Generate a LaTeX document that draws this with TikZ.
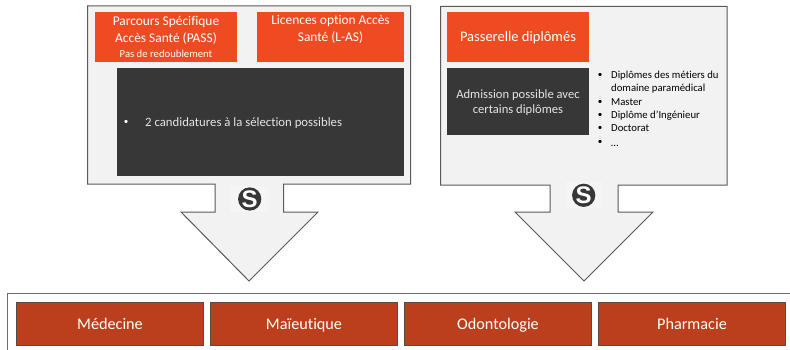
\documentclass[tikz,border=0pt]{standalone}
\usepackage{fontspec}
\setmainfont{Carlito}[RawFeature={-liga;-clig;-dlig}]
\definecolor{panelfill}{HTML}{F2F2F2}
\definecolor{panelline}{HTML}{595959}
\definecolor{orangebox}{HTML}{EE4B23}
\definecolor{darkbox}{HTML}{373737}
\definecolor{redbox}{HTML}{BC3F1D}
\definecolor{redline}{HTML}{5A4A45}
\newcommand{\fs}[1]{\fontsize{#1}{#1}\selectfont}
\tikzset{
  x=1pt,y=-1pt,
  panel/.style={draw=panelline,fill=panelfill,line width=1pt,line join=miter},
  orangecard/.style={fill=orangebox,draw=none,text=white,align=center,inner sep=0pt},
  darkcard/.style={fill=darkbox,draw=none,inner sep=0pt},
  redcard/.style={fill=redbox,draw=redline,line width=1pt,text=white,inner sep=0pt,font=\fs{16.2},minimum width=187pt,minimum height=43pt,text height=15pt,text depth=4pt},
  tag/.style={inner sep=0pt,anchor=base,text=white},
  darktag/.style={inner sep=0pt,anchor=base,text=white!90!black,font=\fs{12.6}},
  listline/.style={inner sep=0pt,anchor=base west,font=\fs{10.7}},
  listdot/.style={inner sep=0pt,font=\fs{9}},
  logo/.style={circle,fill=darkbox,text=white,inner sep=0pt,minimum size=23pt,font=\fontspec{Liberation Sans}\bfseries\fs{24}},
  logobg/.style={fill=white!96!black,draw=none}
}
\begin{document}
\begin{tikzpicture}
\useasboundingbox (0,0) rectangle (790,350);
\fill[white] (0,0) rectangle (790,350);
% left panel with arrow
\draw[panel] (87.5,6) -- (410.7,6) -- (410.7,184) -- (283.5,184) -- (283.5,212) -- (318,212) -- (249,281) -- (181,212) -- (215,212) -- (215,184) -- (87.5,184) -- cycle;
% right panel with arrow
\draw[panel] (440.5,6.5) -- (727,6.5) -- (727,185) -- (618,185) -- (618,212) -- (653,212) -- (584,281) -- (515,212) -- (550,212) -- (550,185) -- (440.5,185) -- cycle;
% left cards
\node[orangecard,minimum width=141.5pt,minimum height=49.5pt] (pass) at (165.8,36.8) {};
\node[tag,font=\fs{13.4}] (pass1) at (166,25.5) {Parcours Spécifique};
\node[tag,font=\fs{13.4}] (pass2) at (166,43) {Accès Santé (PASS)};
\node[tag,font=\fs{10.7}] (pass3) at (166,57.7) {Pas de redoublement};
\node[orangecard,minimum width=147pt,minimum height=49.5pt] (las) at (330.5,36.8) {};
\node[tag,font=\fs{13.4}] (las1) at (330.5,25) {Licences option Accès};
\node[tag,font=\fs{13.4}] (las2) at (330.5,42) {Santé (L-AS)};
\node[darkcard,minimum width=287pt,minimum height=108pt] (cand) at (260.5,122) {};
\node[text=white,inner sep=0pt,font=\fs{9}] (bul) at (126,122.5) {•};
\node[inner sep=0pt,anchor=base west,text=white!90!black,font=\fs{12.75}] (candt) at (145,127) {2 candidatures à la sélection possibles};
% right cards
\node[orangecard,minimum width=142pt,minimum height=49.5pt,font=\fs{14.5},text height=14pt,text depth=4.2pt] (pont) at (518,36.8) {Passerelle diplômés};
\node[darkcard,minimum width=142pt,minimum height=67pt] (adm) at (518,101.5) {};
\node[darktag] (adm1) at (518,98.7) {Admission possible avec};
\node[darktag] (adm2) at (518,114) {certains diplômes};
% right list
\node[listline] (lia) at (611,78.7) {Diplômes des métiers du};
\node[listline] (lib) at (611,92) {domaine paramédical};
\node[listline] (lic) at (611,105.3) {Master};
\node[listline] (lid) at (611,118.7) {Diplôme d’Ingénieur};
\node[listline] (lie) at (611,132) {Doctorat};
\node[listline] (lif) at (611,146.7) {…};
\node[listdot] (bua) at (600,75.5) {•};
\node[listdot] (buc) at (600,102) {•};
\node[listdot] (bud) at (600,115.5) {•};
\node[listdot] (bue) at (600,128.8) {•};
\node[listdot] (buf) at (600,142) {•};
% logos
\fill[logobg] (230,186) rectangle (268,212);
\fill[logobg] (566,181) rectangle (602,208);
\node[logo] (s1) at (249.7,199) {S};
\node[logo] (s2) at (583.7,195.3) {S};
% bottom band
\draw[draw=gray!85!black,line width=1pt] (790,293) -- (7.5,293) -- (7.5,350);
\node[redcard] (med) at (110,323.5) {Médecine};
\node[redcard] (mai) at (304,323.5) {Maïeutique};
\node[redcard] (odo) at (498,323.5) {Odontologie};
\node[redcard] (pha) at (692,323.5) {Pharmacie};
\end{tikzpicture}
\end{document}
